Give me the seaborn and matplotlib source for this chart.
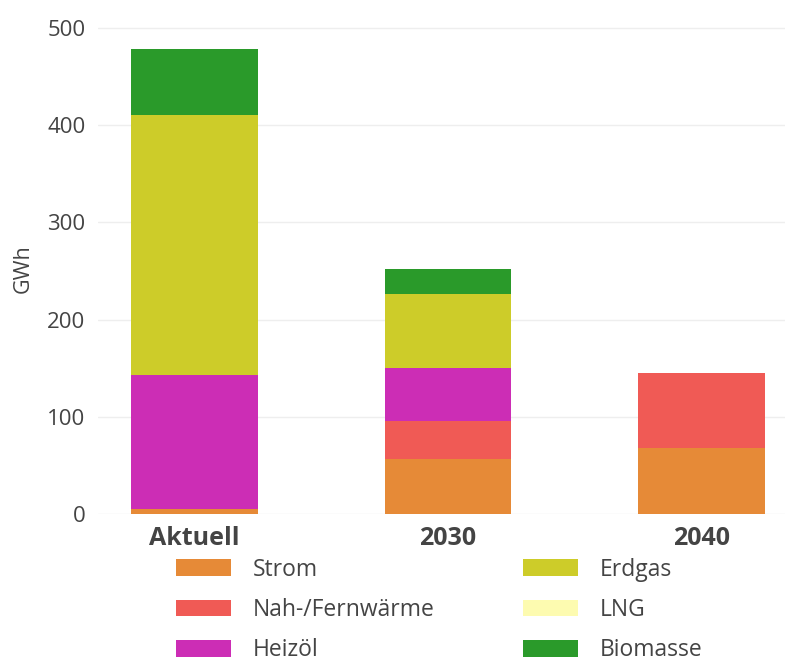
import numpy as np
import pandas as pd
import seaborn as sns
import matplotlib.pyplot as plt
from matplotlib.patches import Patch

scenarios = ['Aktuell', '2030', '2040']
sources = ['Strom', 'Nah-/Fernwärme', 'Heizöl', 'Erdgas', 'LNG', 'Biomasse']
strom = [5, 57, 68]
nahwaerme = [0, 39, 77]
heizoel = [138, 54, 0]
erdgas = [267, 76, 0]
lng = [0, 0, 0]
biomasse = [68, 26, 0]
colors = ['#E68A37', '#F05A55', '#CC2DB5', '#CDCC29', '#FDFBB0', '#2A9A2A']

values = [strom, nahwaerme, heizoel, erdgas, lng, biomasse]

sns.set_theme(style='white')
plt.rcParams['font.family'] = ['Open Sans', 'DejaVu Sans']
textcol = '#444444'

fig = plt.figure(figsize=(7.85, 6.62), dpi=100)
ax = fig.add_axes([0.125, 0.2236, 0.875, 0.7414])

bottom = np.zeros(len(scenarios))
for src, vals, col in zip(sources, values, colors):
    df = pd.DataFrame({'Szenario': scenarios, 'GWh': vals})
    sns.barplot(data=df, x='Szenario', y='GWh', color=col, width=0.5,
                bottom=bottom, errorbar=None, linewidth=0, saturation=1, ax=ax)
    bottom = bottom + np.array(vals)

ax.set_ylim(0, 505)
ax.set_xlim(-0.38, 2.33)
ax.set_yticks([0, 100, 200, 300, 400, 500])
ax.grid(axis='y', color='#eeeeee', lw=1)
ax.set_axisbelow(True)
sns.despine(ax=ax, left=True, bottom=True)
ax.tick_params(axis='y', colors='#dddddd', labelcolor=textcol, labelsize=16, length=4, width=1, pad=5)
ax.tick_params(axis='x', colors='#dddddd', labelcolor=textcol, labelsize=18, length=4, width=1, pad=5)
for lab in ax.get_xticklabels():
    lab.set_fontweight('bold')
ax.set_xlabel('')
ax.set_ylabel('GWh', fontsize=15.5, color=textcol, labelpad=10)

# two legend columns placed separately
handles = [Patch(facecolor=c, edgecolor='none') for c in colors]
leg_kw = dict(loc='center left', frameon=False, fontsize=16.5, handlelength=2.4,
              handleheight=0.75, labelspacing=0.71, handletextpad=0.95,
              borderpad=0, borderaxespad=0)
leg1 = fig.legend(handles[:3], sources[:3], bbox_to_anchor=(176 / 785, 1 - 610 / 662), **leg_kw)
leg2 = fig.legend(handles[3:], sources[3:], bbox_to_anchor=(523 / 785, 1 - 610 / 662), **leg_kw)
for leg in (leg1, leg2):
    for t in leg.get_texts():
        t.set_color(textcol)

fig.savefig('out.png', dpi=100)
